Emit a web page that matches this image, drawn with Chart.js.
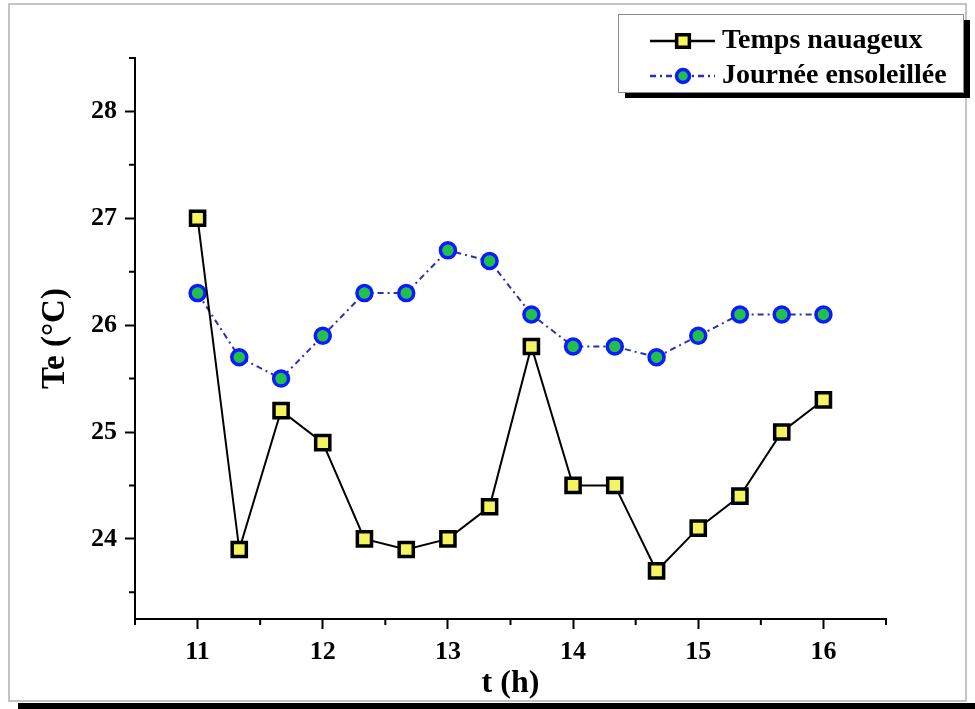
<!DOCTYPE html>
<html><head><meta charset="utf-8">
<script src="https://cdn.jsdelivr.net/npm/chart.js@4.4.1/dist/chart.umd.min.js"></script>
<style>html,body{margin:0;padding:0;background:#fff;}canvas{display:block;}</style>
</head><body>
<canvas id="c" width="975" height="709"></canvas>
<script>
// ---- data ----
const hours  = [11, 11.333, 11.667, 12, 12.333, 12.667, 13, 13.333, 13.667, 14, 14.333, 14.667, 15, 15.333, 15.667, 16];
const cloudy = [27.0, 23.9, 25.2, 24.9, 24.0, 23.9, 24.0, 24.3, 25.8, 24.5, 24.5, 23.7, 24.1, 24.4, 25.0, 25.3];
const sunny  = [26.3, 25.7, 25.5, 25.9, 26.3, 26.3, 26.7, 26.6, 26.1, 25.8, 25.8, 25.7, 25.9, 26.1, 26.1, 26.1];
const seriesNames = ['Temps nauageux', 'Journée ensoleillée'];
const xMajorTicks = [11, 12, 13, 14, 15, 16];
const xMinorTicks = [10.5, 11.5, 12.5, 13.5, 14.5, 15.5, 16.5];
const yMajorTicks = [24, 25, 26, 27, 28];
const yMinorTicks = [23.5, 24.5, 25.5, 26.5, 27.5, 28.5];
const xTitle = 't (h)';
const yTitle = 'Te (°C)';

const FONT = "'Liberation Serif', 'Times New Roman', serif";
const cloudyStyle = {line: '#000000', fill: '#f4f462', border: '#000000'};
const sunnyStyle  = {line: '#2b2fb0', fill: '#22c04a', border: '#0a1cff'};

const framePlugin = {
  id: 'frame',
  beforeDraw(chart) {
    const ctx = chart.ctx;
    ctx.save();
    ctx.fillStyle = '#ffffff';
    ctx.fillRect(0, 0, chart.width, chart.height);
    ctx.strokeStyle = '#c4c4c4';
    ctx.lineWidth = 2;
    ctx.strokeRect(9, 4, 957, 697);
    ctx.fillStyle = '#000000';
    ctx.fillRect(18, 703, 957, 6);
    ctx.restore();
  }
};

const minorTickPlugin = {
  id: 'minorTicks',
  afterDraw(chart) {
    const ctx = chart.ctx;
    const xs = chart.scales.x, ys = chart.scales.y;
    ctx.save();
    ctx.strokeStyle = '#000';
    ctx.lineWidth = 2;
    ctx.beginPath();
    xMinorTicks.forEach(v => {
      const px = xs.getPixelForValue(v);
      ctx.moveTo(px, xs.top); ctx.lineTo(px, xs.top + 6);
    });
    yMinorTicks.forEach(v => {
      const py = ys.getPixelForValue(v);
      ctx.moveTo(ys.right, py); ctx.lineTo(ys.right - 6, py);
    });
    ctx.stroke();
    ctx.restore();
  }
};

const legendPlugin = {
  id: 'customLegend',
  afterDraw(chart) {
    const ctx = chart.ctx;
    const bx = 618, by = 14, bw = 345, bh = 78;
    ctx.save();
    ctx.fillStyle = '#000';
    ctx.fillRect(bx + 7, by + 6, bw, bh);
    ctx.fillStyle = '#fff';
    ctx.fillRect(bx, by, bw, bh);
    ctx.strokeStyle = '#8a8a8a';
    ctx.lineWidth = 1;
    ctx.strokeRect(bx + 0.5, by + 0.5, bw, bh);
    const ds = chart.data.datasets;
    const rows = [41, 76];
    rows.forEach((ry, i) => {
      const d = ds[i];
      ctx.save();
      ctx.strokeStyle = d.borderColor;
      ctx.lineWidth = d.borderWidth + 0.5;
      ctx.setLineDash(d.borderDash || []);
      ctx.beginPath();
      ctx.moveTo(650, ry); ctx.lineTo(715, ry);
      ctx.stroke();
      ctx.restore();
      ctx.save();
      ctx.fillStyle = d.pointBackgroundColor;
      ctx.strokeStyle = d.pointBorderColor;
      ctx.lineWidth = d.pointBorderWidth;
      Chart.helpers.drawPoint(ctx, {pointStyle: d.pointStyle, radius: d.pointRadius - 1, rotation: 0, borderWidth: d.pointBorderWidth}, 683, ry);
      ctx.restore();
      ctx.fillStyle = '#000';
      ctx.font = 'bold 28px ' + FONT;
      ctx.textBaseline = 'middle';
      ctx.textAlign = 'left';
      ctx.fillText(d.label, 722, ry);
    });
    ctx.restore();
  }
};

new Chart(document.getElementById('c'), {
  type: 'line',
  data: {
    datasets: [
      {
        label: seriesNames[0],
        data: hours.map((h, i) => ({x: h, y: cloudy[i]})),
        borderColor: cloudyStyle.line, borderWidth: 2,
        pointStyle: 'rect', pointRadius: 10, pointBorderWidth: 3.5,
        pointBackgroundColor: cloudyStyle.fill, pointBorderColor: cloudyStyle.border,
        tension: 0, order: 1
      },
      {
        label: seriesNames[1],
        data: hours.map((h, i) => ({x: h, y: sunny[i]})),
        borderColor: sunnyStyle.line, borderWidth: 2, borderDash: [6, 4, 2, 4],
        pointStyle: 'circle', pointRadius: 7.5, pointBorderWidth: 3.5,
        pointBackgroundColor: sunnyStyle.fill, pointBorderColor: sunnyStyle.border,
        tension: 0, order: 2
      }
    ]
  },
  options: {
    responsive: false,
    animation: false,
    devicePixelRatio: 1,
    layout: {padding: {top: 58, right: 89, bottom: 0, left: 0}},
    plugins: {legend: {display: false}, tooltip: {enabled: false}},
    scales: {
      x: {
        type: 'linear', min: 10.5, max: 16.5,
        afterBuildTicks: s => { s.ticks = xMajorTicks.map(v => ({value: v})); },
        afterFit: s => { s.height = 90; s.paddingLeft = 0; s.paddingRight = 0; s.paddingTop = 0; s.paddingBottom = 0; },
        ticks: {font: {family: FONT, size: 26, weight: 'bold'}, color: '#000', padding: 8, maxRotation: 0, autoSkip: false,
                callback: v => String(v)},
        grid: {drawOnChartArea: false, drawTicks: true, tickLength: 10, tickColor: '#000', tickWidth: 2},
        border: {color: '#000', width: 2},
        title: {display: true, text: xTitle, color: '#000', font: {family: FONT, size: 32, weight: 'bold'}, padding: {top: 0, bottom: 6}}
      },
      y: {
        type: 'linear', min: 23.25, max: 28.5,
        afterBuildTicks: s => { s.ticks = yMajorTicks.map(v => ({value: v})); },
        afterFit: s => { s.width = 135; s.paddingLeft = 0; s.paddingRight = 0; s.paddingTop = 0; s.paddingBottom = 0; },
        ticks: {font: {family: FONT, size: 26, weight: 'bold'}, color: '#000', padding: 8, autoSkip: false,
                callback: v => String(v)},
        grid: {drawOnChartArea: false, drawTicks: true, tickLength: 10, tickColor: '#000', tickWidth: 2},
        border: {color: '#000', width: 2},
        title: {display: true, text: yTitle, color: '#000', font: {family: FONT, size: 33, weight: 'bold'}, padding: {top: 36, bottom: 0}}
      }
    }
  },
  plugins: [framePlugin, minorTickPlugin, legendPlugin]
});
</script>
</body></html>
